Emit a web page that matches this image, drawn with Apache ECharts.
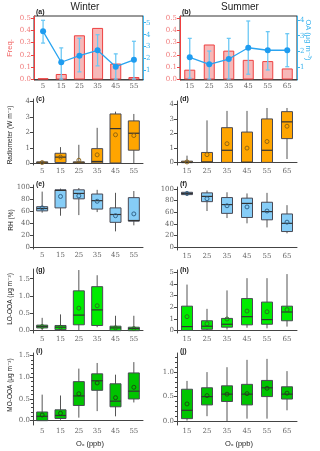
<!DOCTYPE html>
<html>
<head>
<meta charset="utf-8">
<script src="https://cdn.jsdelivr.net/npm/echarts@6/dist/echarts.min.js"></script>
<style>
  html, body { margin: 0; padding: 0; background: #fff; }
  #chart { width: 320px; height: 451px; }
</style>
</head>
<body>
<div id="chart"></div>
<script>
// categories (Ox bins, ppb)
var winterCats = ['5', '15', '25', '35', '45', '55'];
var summerCats = ['15', '25', '35', '45', '55', '65'];

// (a)/(b) frequency bars and OA mean with error range
var freqW = [0.01, 0.045, 0.36, 0.42, 0.13, 0.02];
var freqS = [0.08, 0.285, 0.235, 0.16, 0.15, 0.09];
var oaW = [4.28, 1.7, 2.25, 2.7, 1.33, 1.9];
var oaWLo = [3.3, 0.3, 0.9, 1.4, 0.3, 0.3];
var oaWHi = [5.2, 2.9, 3.7, 4.0, 2.4, 3.45];
var oaS = [1.62, 1.17, 1.51, 2.23, 2.07, 2.07];
var oaSLo = [0.28, 0.24, 0.24, 0.54, 0.81, 1.02];
var oaSHi = [2.83, 2.02, 2.83, 3.94, 3.26, 3.13];

// box stats: [min, q1, median, q3, max], plus means
var radW = [[0, 0, 0.02, 0.05, 0.15], [0, 0.05, 0.4, 0.65, 1.05], [0, 0, 0.02, 0.05, 1.2],
            [0, 0.02, 0.12, 0.95, 2.3], [0, 0.02, 2.25, 3.2, 3.35], [0.02, 0.85, 1.95, 2.75, 3.2]];
var radWMean = [0.05, 0.4, 0.2, 0.55, 1.85, 1.8];
var radS = [[0, 0, 0.02, 0.05, 0.48], [0, 0.02, 0.05, 0.7, 2.9], [0, 0.02, 0.85, 2.4, 3.55],
            [0, 0.02, 0.03, 2.1, 3.55], [0, 0.02, 0.85, 3.0, 3.75], [0.25, 1.65, 2.8, 3.5, 3.75]];
var radSMean = [0.05, 0.55, 1.3, 1.0, 1.45, 2.5];

var rhW = [[57, 60, 64, 67, 92], [52, 65, 94, 95, 97], [53, 80, 89, 95, 98],
           [58, 63, 77, 88, 95], [26, 41, 54, 65, 90], [36, 43, 44, 82, 93]];
var rhWMean = [65, 84, 85, 76, 52, 55];
var rhS = [[88, 90, 92, 94, 95], [62, 78, 87, 93, 97], [50, 58, 73, 85, 94],
           [41, 51, 75, 84, 92], [34, 47, 61, 77, 93], [24, 27, 41, 57, 72]];
var rhSMean = [92, 83, 71, 69, 62, 43];

var loW = [[0.02, 0.08, 0.12, 0.16, 0.37], [0, 0.03, 0.1, 0.15, 0.47], [0.02, 0.17, 0.45, 1.15, 1.75],
           [0.1, 0.15, 0.6, 1.27, 1.6], [0, 0, 0.08, 0.13, 0.43], [0, 0, 0.06, 0.1, 0.43]];
var loWMean = [0.12, 0.1, 0.65, 0.72, 0.08, 0.06];
var loS = [[0, 0.02, 0.35, 2.1, 3.95], [0.02, 0.12, 0.38, 0.85, 1.87], [0.1, 0.3, 0.55, 1.05, 3.45],
           [0.25, 0.5, 1.2, 2.75, 4.5], [0.2, 0.55, 0.95, 2.45, 4.5], [0.35, 0.85, 1.6, 2.1, 4.85]];
var loSMean = [1.2, 0.6, 1.0, 1.68, 1.62, 1.8];

var moW = [[0, 0, 0.1, 0.2, 0.6], [0.02, 0.05, 0.12, 0.25, 0.58], [0.07, 0.35, 0.57, 0.9, 1.2],
           [0.22, 0.7, 0.92, 1.08, 1.33], [0.1, 0.32, 0.45, 0.85, 1.06], [0.42, 0.5, 0.68, 1.1, 1.35]];
var moWMean = [0.13, 0.17, 0.62, 0.87, 0.53, 0.77];
var moS = [[0.01, 0.05, 0.22, 0.65, 0.82], [0.1, 0.33, 0.5, 0.68, 1.0], [0, 0.4, 0.55, 0.72, 1.1],
           [0.05, 0.33, 0.55, 0.75, 1.25], [0.05, 0.5, 0.68, 0.83, 1.27], [0.22, 0.45, 0.55, 0.7, 1.02]];
var moSMean = [0.35, 0.52, 0.55, 0.56, 0.67, 0.57];

// tick labels
var freqTicks = [0, 0.1, 0.2, 0.3, 0.4, 0.5];
var oaTicksW = [1, 2, 3, 4, 5];
var oaTicksS = [1, 2, 3, 4];
var radTicks = [0, 1, 2, 3, 4];
var rhTicks = [0, 20, 40, 60, 80, 100];
var loWTicks = [0, 0.5, 1.0, 1.5];
var loSTicks = [0, 1, 2, 3, 4, 5];
var moWTicks = [0, 0.5, 1.0, 1.5];
var moSTicks = [0, 0.5, 1.0];

var myChart = echarts.init(document.getElementById('chart'));

var RED = '#ee4040', BLUE = '#3cb4ee', AX = '#444', LBL = '#666';
var numFont = 'DejaVu Serif';
var sansFont = 'Liberation Sans, DejaVu Sans, sans-serif';

var grids = [], xAxes = [], yAxes = [], series = [];

function addX(cats, grid) {
  xAxes.push({
    type: 'category', gridIndex: grid, data: cats, boundaryGap: true,
    axisLine: { lineStyle: { color: AX, width: 1 } },
    axisTick: { inside: false, length: 3, lineStyle: { color: AX } },
    axisLabel: { margin: 3, fontFamily: numFont, fontSize: 7, color: LBL },
    splitLine: { show: false }
  });
}

function addY(grid, min, max, ticks, dec, opt) {
  opt = opt || {};
  var col = opt.color || AX;
  yAxes.push({
    type: 'value', gridIndex: grid, min: min, max: max,
    position: opt.position || 'left',
    axisLine: { show: true, lineStyle: { color: col, width: opt.lw || 1 } },
    axisTick: { show: true, length: 3, customValues: ticks, lineStyle: { color: col } },
    axisLabel: {
      show: opt.noLabel ? false : true, customValues: ticks, margin: 3,
      fontFamily: numFont, fontSize: 7, color: opt.labelColor || LBL,
      formatter: function (v) { return v.toFixed(dec); }
    },
    splitLine: { show: false }
  });
  return yAxes.length - 1;
}

function minorY(grid, min, max, ticks) {
  yAxes.push({
    type: 'value', gridIndex: grid, min: min, max: max, position: 'left',
    axisLine: { show: false },
    axisTick: { show: true, length: 2, customValues: ticks, lineStyle: { color: AX } },
    axisLabel: { show: false },
    splitLine: { show: false }
  });
}

// box renderer: whisker, box, median, mean circle
function boxRenderer(fill, edge, boxW) {
  return function (params, api) {
    var i = api.value(0);
    var pMin = api.coord([i, api.value(1)]);
    var pQ1 = api.coord([i, api.value(2)]);
    var pMed = api.coord([i, api.value(3)]);
    var pQ3 = api.coord([i, api.value(4)]);
    var pMax = api.coord([i, api.value(5)]);
    var pMean = api.coord([i, api.value(6)]);
    var x = pMed[0];
    var h = Math.max(pQ1[1] - pQ3[1], 1.5);
    return {
      type: 'group',
      children: [
        { type: 'line', shape: { x1: x, y1: pMin[1], x2: x, y2: pMax[1] },
          style: { stroke: '#555', lineWidth: 1 } },
        { type: 'rect', shape: { x: x - boxW / 2, y: pQ1[1] - h, width: boxW, height: h },
          style: { fill: fill, stroke: '#4a4a55', lineWidth: 1 } },
        { type: 'line', shape: { x1: x - boxW / 2, y1: pMed[1], x2: x + boxW / 2, y2: pMed[1] },
          style: { stroke: '#333', lineWidth: 1.2 } },
        { type: 'circle', shape: { cx: x, cy: pMean[1], r: 2 },
          style: { fill: 'none', stroke: edge, lineWidth: 0.9 } }
      ]
    };
  };
}

function addBox(xi, yi, stats, means, fill, edge) {
  var data = stats.map(function (s, i) { return [i, s[0], s[1], s[2], s[3], s[4], means[i]]; });
  series.push({
    type: 'custom', xAxisIndex: xi, yAxisIndex: yi, data: data,
    encode: { x: 0, y: [1, 2, 3, 4, 5] },
    renderItem: boxRenderer(fill, edge, 11), silent: true
  });
}

function errRenderer(color) {
  return function (params, api) {
    var i = api.value(0);
    var lo = api.coord([i, api.value(1)]);
    var hi = api.coord([i, api.value(2)]);
    var x = lo[0];
    var st = { stroke: color, lineWidth: 1.3 };
    return {
      type: 'group',
      children: [
        { type: 'line', shape: { x1: x, y1: lo[1], x2: x, y2: hi[1] }, style: st },
        { type: 'line', shape: { x1: x - 2, y1: lo[1], x2: x + 2, y2: lo[1] }, style: st },
        { type: 'line', shape: { x1: x - 2, y1: hi[1], x2: x + 2, y2: hi[1] }, style: st }
      ]
    };
  };
}

// ---------- row 1: freq bars + OA ----------
function freqPanel(g, cats, freq, oa, lo, hi, oaMin, oaMax, oaTicks) {
  grids.push(g);
  var gi = grids.length - 1;
  addX(cats, gi);
  var xi = xAxes.length - 1;
  var yl = addY(gi, -0.004, 0.517, freqTicks, 1, { color: RED, labelColor: '#f07a7a' });
  var yr = addY(gi, oaMin, oaMax, oaTicks, 0, { color: BLUE, labelColor: BLUE, position: 'right' });
  series.push({
    type: 'bar', xAxisIndex: xi, yAxisIndex: yl, data: freq, barWidth: 11,
    itemStyle: { color: '#f7b8b8', borderColor: RED, borderWidth: 1 }, silent: true
  });
  series.push({
    type: 'custom', xAxisIndex: xi, yAxisIndex: yr,
    data: lo.map(function (v, i) { return [i, v, hi[i]]; }),
    encode: { x: 0, y: [1, 2] }, renderItem: errRenderer('#6cc8f4'), silent: true, z: 3
  });
  series.push({
    type: 'line', xAxisIndex: xi, yAxisIndex: yr, data: oa, symbol: 'circle', symbolSize: 6,
    lineStyle: { color: '#2aa4f0', width: 1.3 }, itemStyle: { color: '#1e9cf0' }, silent: true, z: 4
  });
}

var frame = { show: true, borderColor: '#333', borderWidth: 1, backgroundColor: 'transparent' };
freqPanel(Object.assign({ left: 34, top: 16, width: 109, height: 64 }, frame),
  winterCats, freqW, oaW, oaWLo, oaWHi, 0.22, 5.56, oaTicksW);
freqPanel(Object.assign({ left: 180, top: 16, width: 117, height: 64 }, frame),
  summerCats, freqS, oaS, oaSLo, oaSHi, 0.17, 4.26, oaTicksS);

// ---------- rows 2-5: box panels ----------
function boxPanel(g, cats, stats, means, min, max, ticks, dec, fill, edge, minor) {
  grids.push(g);
  var gi = grids.length - 1;
  addX(cats, gi);
  var xi = xAxes.length - 1;
  var yi = addY(gi, min, max, ticks, dec);
  if (minor) minorY(gi, min, max, minor);
  addBox(xi, yi, stats, means, fill, edge);
}

var ORANGE = '#ffa500', LBLUE = '#86cdf7', LGREEN = '#00ec00', DGREEN = '#00c400';
var moMinor = [0.1, 0.2, 0.3, 0.4, 0.6, 0.7, 0.8, 0.9, 1.1, 1.2, 1.3, 1.4];
boxPanel({ left: 33, top: 99, width: 110, height: 66 }, winterCats, radW, radWMean, -0.11, 4.17, radTicks, 0, ORANGE, '#8a6010');
boxPanel({ left: 177, top: 101, width: 120, height: 64 }, summerCats, radS, radSMean, -0.16, 4.23, radTicks, 0, ORANGE, '#8a6010');
boxPanel({ left: 33, top: 185, width: 110, height: 64 }, winterCats, rhW, rhWMean, -3.3, 103, rhTicks, 0, LBLUE, '#2a5a80');
boxPanel({ left: 177, top: 187, width: 120, height: 63 }, summerCats, rhS, rhSMean, -4.5, 103, rhTicks, 0, LBLUE, '#2a5a80');
boxPanel({ left: 33, top: 269, width: 110, height: 64 }, winterCats, loW, loWMean, -0.067, 1.78, loWTicks, 1, LGREEN, '#2a6a20');
boxPanel({ left: 177, top: 270, width: 120, height: 63 }, summerCats, loS, loSMean, -0.2, 5.2, loSTicks, 0, LGREEN, '#2a6a20');
boxPanel({ left: 33, top: 353, width: 110, height: 72 }, winterCats, moW, moWMean, -0.1, 1.56, moWTicks, 1, DGREEN, '#1a4a10', moMinor);
boxPanel({ left: 177, top: 353, width: 120, height: 72 }, summerCats, moS, moSMean, -0.08, 1.39, moSTicks, 1, DGREEN, '#1a4a10', moMinor);

// ---------- texts ----------
function txt(x, y, s, o) {
  o = o || {};
  return {
    type: 'text', x: x, y: y, rotation: o.rot || 0, z: 10,
    style: {
      text: s, fill: o.color || '#222', fontSize: o.size || 7,
      fontFamily: sansFont, fontWeight: o.bold ? 'bold' : 'normal',
      textAlign: o.align || 'center', textVerticalAlign: 'middle'
    }
  };
}
var R = Math.PI / 2;
var texts = [
  txt(85, 7, 'Winter', { size: 10 }),
  txt(240, 7, 'Summer', { size: 10 }),
  txt(36, 12, '(a)', { align: 'left', bold: true }),
  txt(182, 12, '(b)', { align: 'left', bold: true }),
  txt(36, 99, '(c)', { align: 'left', bold: true }),
  txt(180, 99, '(d)', { align: 'left', bold: true }),
  txt(36, 184, '(e)', { align: 'left', bold: true }),
  txt(180, 184, '(f)', { align: 'left', bold: true }),
  txt(36, 270, '(g)', { align: 'left', bold: true }),
  txt(180, 270, '(h)', { align: 'left', bold: true }),
  txt(36, 351, '(i)', { align: 'left', bold: true }),
  txt(180, 351, '(j)', { align: 'left', bold: true }),
  txt(10, 48, 'Freq.', { rot: R, color: '#f06060', size: 7.5 }),
  txt(308, 40, 'OA (μg m⁻³)', { rot: -R, color: BLUE, size: 7.5 }),
  txt(10, 135, 'Radiometer (W m⁻²)', { rot: R, size: 6.5 }),
  txt(11, 220, 'RH (%)', { rot: R, size: 6.5 }),
  txt(10, 299, 'LO-OOA (μg m⁻³)', { rot: R, size: 6.5 }),
  txt(10, 385, 'MO-OOA (μg m⁻³)', { rot: R, size: 6.5 }),
  txt(90, 444, 'Oₓ (ppb)', { size: 7.5 }),
  txt(239, 444, 'Oₓ (ppb)', { size: 7.5 })
];

var option = {
  animation: false,
  backgroundColor: '#fff',
  grid: grids,
  xAxis: xAxes,
  yAxis: yAxes,
  series: series,
  graphic: texts
};
myChart.setOption(option);
</script>
</body>
</html>
